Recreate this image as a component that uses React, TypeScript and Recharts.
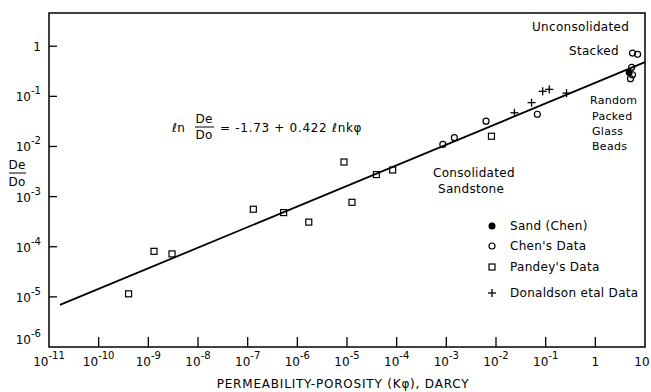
import React from 'react';
import { ReferenceLine, Scatter, ScatterChart, XAxis, YAxis } from 'recharts';

const X_TICKS = [1e-11, 1e-10, 1e-9, 1e-8, 1e-7, 1e-6, 1e-5, 1e-4, 1e-3, 1e-2, 1e-1, 1, 10];
const Y_TICKS = [1e-6, 1e-5, 1e-4, 1e-3, 1e-2, 1e-1, 1];
const X_DOMAIN = [1e-11, 10];
const Y_DOMAIN = [1e-6, 4.6];

// (kφ in darcy, De/Do)
const sandChen = [{ x: 4.8, y: 0.3 }];
const chenData = [
  { x: 8.5e-4, y: 1.1e-2 },
  { x: 1.45e-3, y: 1.5e-2 },
  { x: 6.3e-3, y: 3.2e-2 },
  { x: 6.8e-2, y: 4.4e-2 },
  { x: 5.6, y: 0.73 },
  { x: 7.1, y: 0.69 },
  { x: 5.4, y: 0.38 },
  { x: 5.6, y: 0.27 },
  { x: 5.1, y: 0.225 },
];
const pandeyData = [
  { x: 4e-10, y: 1.15e-5 },
  { x: 1.3e-9, y: 8.1e-5 },
  { x: 3e-9, y: 7.2e-5 },
  { x: 1.3e-7, y: 5.6e-4 },
  { x: 5.3e-7, y: 4.8e-4 },
  { x: 1.7e-6, y: 3.1e-4 },
  { x: 1.26e-5, y: 7.7e-4 },
  { x: 8.7e-6, y: 4.9e-3 },
  { x: 3.9e-5, y: 2.75e-3 },
  { x: 8.3e-5, y: 3.4e-3 },
  { x: 8.1e-3, y: 1.6e-2 },
];
const donaldsonData = [
  { x: 2.35e-2, y: 4.7e-2 },
  { x: 5.2e-2, y: 7.5e-2 },
  { x: 8.7e-2, y: 0.126 },
  { x: 0.118, y: 0.138 },
  { x: 0.263, y: 0.116 },
];
// ln De/Do = -1.73 + 0.422 ln kφ, ends as drawn
const fitLine = [
  { x: 1.66e-11, y: 6.9e-6 },
  { x: 10, y: 0.48 },
];

const SERIES_ORDER = ['Sand (Chen)', "Chen's Data", "Pandey's Data", 'Donaldson etal Data'];

const FONT = '"DejaVu Sans", sans-serif';
const INK = '#000';

// plot box (chart margins + axis sizes)
const PLOT = { left: 49, top: 13, right: 645, bottom: 347 };

const FilledDot = ({ cx, cy }: any) => <circle cx={cx} cy={cy} r={3.5} fill={INK} />;
const OpenDot = ({ cx, cy }: any) => <circle cx={cx} cy={cy} r={3} fill="none" stroke={INK} strokeWidth={1.2} />;
const OpenSquare = ({ cx, cy }: any) => (
  <rect x={cx - 3} y={cy - 3} width={6} height={6} fill="none" stroke={INK} strokeWidth={1.2} />
);
const Plus = ({ cx, cy }: any) => (
  <g fill={INK}>
    <rect x={cx - 4} y={cy - 0.65} width={8} height={1.3} />
    <rect x={cx - 0.65} y={cy - 4} width={1.3} height={8} />
  </g>
);

const MARKERS: Record<string, (p: any) => React.ReactElement> = {
  'Sand (Chen)': FilledDot,
  "Chen's Data": OpenDot,
  "Pandey's Data": OpenSquare,
  'Donaldson etal Data': Plus,
};

function powerText(v: number) {
  const e = Math.round(Math.log10(v));
  if (e === 0) return '1';
  if (e === 1) return '10';
  return (
    <>
      10
      <tspan dy={-7} fontSize={10}>
        {e}
      </tspan>
    </>
  );
}

function XTick({ x, y, payload }: any) {
  const v = payload.value;
  const first = v === X_TICKS[0];
  const last = v === X_TICKS[X_TICKS.length - 1];
  return (
    <g>
      {!first && !last && <line x1={x} y1={y} x2={x} y2={y - 10} stroke={INK} strokeWidth={1.3} />}
      <text x={last ? x - 3 : x} y={y + 19} textAnchor="middle" fontSize={12} fontFamily={FONT} fill={INK}>
        {powerText(v)}
      </text>
    </g>
  );
}

function YTick({ x, y, payload }: any) {
  const v = payload.value;
  const bottom = v === Y_TICKS[0];
  return (
    <g>
      {!bottom && <line x1={x} y1={y} x2={x + 8} y2={y} stroke={INK} strokeWidth={1.3} />}
      <text x={x - 8} y={bottom ? y - 3 : y + 5} textAnchor="end" fontSize={12} fontFamily={FONT} fill={INK}>
        {powerText(v)}
      </text>
    </g>
  );
}

// legend rows (vertical centres), drawn beside the plot's lower right
const LEGEND_X = 492;
const LEGEND_Y = [226, 246, 267, 293];

const textStyle = { fontFamily: FONT, fontSize: 12, fill: INK, letterSpacing: 0.3 } as const;

export default function App() {
  const w = PLOT.right - PLOT.left;
  const h = PLOT.bottom - PLOT.top;
  return (
    <div style={{ position: 'relative', width: 651, height: 392, background: '#fff' }}>
      <style>{'body{margin:0}'}</style>
      <ScatterChart width={651} height={392} margin={{ top: PLOT.top, right: 651 - PLOT.right, bottom: 0, left: 0 }}>
        <XAxis
          dataKey="x"
          type="number"
          scale="log"
          domain={X_DOMAIN}
          ticks={X_TICKS}
          interval={0}
          height={392 - PLOT.bottom}
          axisLine={false}
          tickLine={false}
          tickSize={0}
          tickMargin={0}
          tick={<XTick />}
        />
        <YAxis
          dataKey="y"
          type="number"
          scale="log"
          domain={Y_DOMAIN}
          ticks={Y_TICKS}
          interval={0}
          width={PLOT.left}
          axisLine={false}
          tickLine={false}
          tickSize={0}
          tickMargin={0}
          tick={<YTick />}
        />
        <ReferenceLine segment={fitLine} stroke={INK} strokeWidth={1.8} ifOverflow="visible" />
        <Scatter name="Sand (Chen)" data={sandChen} shape={FilledDot} isAnimationActive={false} />
        <Scatter name="Chen's Data" data={chenData} shape={OpenDot} isAnimationActive={false} />
        <Scatter name="Pandey's Data" data={pandeyData} shape={OpenSquare} isAnimationActive={false} />
        <Scatter name="Donaldson etal Data" data={donaldsonData} shape={Plus} isAnimationActive={false} />
      </ScatterChart>
      <svg width={651} height={392} style={{ position: 'absolute', left: 0, top: 0 }}>
        {/* frame */}
        <rect x={PLOT.left} y={PLOT.top} width={w} height={h} fill="none" stroke={INK} strokeWidth={1.5} />

        {/* legend */}
        {SERIES_ORDER.map((name, i) => {
          const Marker = MARKERS[name];
          return (
            <g key={name}>
              <Marker cx={LEGEND_X} cy={LEGEND_Y[i]} />
              <text x={LEGEND_X + 18} y={LEGEND_Y[i] + 4} {...textStyle}>
                {name}
              </text>
            </g>
          );
        })}

        {/* y axis title as a fraction */}
        <text x={17} y={169} textAnchor="middle" {...textStyle}>De</text>
        <line x1={9} y1={173} x2={26} y2={173} stroke={INK} strokeWidth={1} />
        <text x={17} y={186} textAnchor="middle" {...textStyle}>Do</text>

        {/* regression equation */}
        <text x={172} y={132} {...textStyle}>ℓn</text>
        <text x={204} y={123} textAnchor="middle" {...textStyle}>De</text>
        <line x1={195} y1={127} x2={214} y2={127} stroke={INK} strokeWidth={1} />
        <text x={204} y={139} textAnchor="middle" {...textStyle}>Do</text>
        <text x={220} y={132} {...textStyle} letterSpacing={0.7}>= -1.73 + 0.422 ℓnkφ</text>

        {/* region notes */}
        <text x={532} y={31} {...textStyle}>Unconsolidated</text>
        <text x={569} y={55} {...textStyle}>Stacked</text>
        <text x={590} y={104} {...textStyle} fontSize={11}>Random</text>
        <text x={592} y={120} {...textStyle} fontSize={11}>Packed</text>
        <text x={592} y={135} {...textStyle} fontSize={11}>Glass</text>
        <text x={592} y={150} {...textStyle} fontSize={11}>Beads</text>
        <text x={433} y={177} {...textStyle}>Consolidated</text>
        <text x={438} y={193} {...textStyle}>Sandstone</text>

        <text x={343} y={388} textAnchor="middle" {...textStyle} letterSpacing={0.8}>
          PERMEABILITY-POROSITY (Kφ), DARCY
        </text>
      </svg>
    </div>
  );
}
